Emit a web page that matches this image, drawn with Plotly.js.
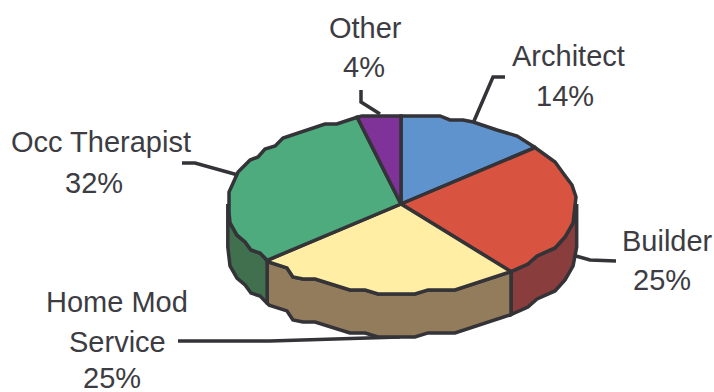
<!DOCTYPE html>
<html>
<head>
<meta charset="utf-8">
<script src="https://cdn.plot.ly/plotly-3.0.1.min.js"></script>
<style>html,body{margin:0;padding:0;background:#fff}#chart{width:714px;height:392px}</style>
</head>
<body>
<div id="chart"></div>
<script>
// Share of respondents by profession, clockwise from twelve o'clock
const categories = ['Architect', 'Builder', 'Home Mod Service', 'Occ Therapist', 'Other'];
const shares = [14, 25, 25, 32, 4];

const topColors = ['#5F93CE', '#D95440', '#FFEEA3', '#4DAB7E', '#7F3297'];
const wallColors = ['#4A7099', '#893D3D', '#937C5C', '#41704F', '#5A2570'];
const inkColor = '#333338';
const textColor = '#3C3C42';

// Each label is stacked line by line around its own centre
const labelLines = [
  ['Architect', '14%'],
  ['Builder', '25%'],
  ['Home Mod', 'Service', '25%'],
  ['Occ Therapist', '32%'],
  ['Other', '4%']
];
const labelX = [
  [568, 565],
  [667, 662],
  [117, 117, 112],
  [101, 94],
  [365, 364]
];
const labelY = [
  [56, 96],
  [241, 280],
  [302, 342, 378],
  [142, 183],
  [28, 67]
];

// Leader polylines from each label to the pie
const leaderX = [[505, 493, 474], [616, 590, 576], [178, 270, 400], [182, 195, 238], [361, 361, 380]];
const leaderY = [[77, 77, 121], [261, 260, 256], [341, 341, 337], [163, 163, 175], [90, 102, 114]];

// Pie projection
const cx = 401, cy = 204, rx = 175, ry = 89, depth = 43;

// The hand-drawn rim: angle clockwise from top, and radius relative to the ellipse
const rimAngle = [0, 12.7, 16.5, 20.6, 24.1, 33.4, 41, 51.5, 61.8, 69.4, 77.7, 85.5, 102.2, 111.6, 119.3, 126.9, 132.9,
  140.8, 162.3, 170.9, 175.5, 187.4, 192, 196.8, 210.2, 213.6, 217, 222.2, 229.1, 235.6, 238.9, 244.4, 249.6, 257.7,
  264.1, 277.8, 291.1, 299.8, 302.9, 308.5, 312.2, 317.7, 334.2, 337.8, 347.3, 360];
const rimScale = [0.989, 1.014, 0.985, 1.008, 1.009, 0.996, 1.012, 0.993, 0.999, 0.989, 1.0, 1.003, 1.006, 1.008, 1.009, 0.972, 0.99,
  0.986, 1.014, 0.978, 1.014, 1.02, 0.988, 1.009, 0.976, 1.012, 1.026, 0.97, 0.997, 0.976, 1.001, 0.988, 1.0, 1.0,
  0.988, 0.992, 0.998, 0.994, 0.973, 0.993, 0.971, 1.002, 0.998, 0.971, 1.014, 0.989];

function scaleAt(deg) {
  for (let i = 1; i < rimAngle.length; i++) {
    if (deg <= rimAngle[i]) {
      const t = (deg - rimAngle[i - 1]) / (rimAngle[i] - rimAngle[i - 1]);
      return rimScale[i - 1] + t * (rimScale[i] - rimScale[i - 1]);
    }
  }
  return rimScale[rimScale.length - 1];
}

function rimPoint(deg, drop) {
  const f = scaleAt(deg), a = deg * Math.PI / 180;
  return [cx + rx * f * Math.sin(a), cy - ry * f * Math.cos(a) + drop];
}

function arc(a0, a1, drop) {
  const angles = [a0, ...rimAngle.filter(a => a > a0 && a < a1), a1];
  return angles.map(a => rimPoint(a, drop));
}

function polygon(points, fill) {
  return {
    type: 'scatter', mode: 'lines', fill: 'toself', fillcolor: fill,
    x: points.map(p => p[0]), y: points.map(p => p[1]),
    line: {color: inkColor, width: 3.5, shape: 'linear'},
    hoverinfo: 'skip', showlegend: false
  };
}

const total = shares.reduce((s, v) => s + v, 0);
const walls = [], tops = [];
let cumulative = 0;
shares.forEach((share, i) => {
  const a0 = cumulative / total * 360;
  cumulative += share;
  const a1 = cumulative / total * 360;

  // Only the front half of the drum shows its side
  const w0 = Math.max(a0, 90), w1 = Math.min(a1, 270);
  if (w1 > w0) {
    const outline = [...arc(w0, w1, 0), ...arc(w0, w1, depth).reverse()];
    outline.push(outline[0]);
    walls.push(polygon(outline, wallColors[i]));
  }
  const wedge = [[cx, cy], ...arc(a0, a1, 0), [cx, cy]];
  tops.push(polygon(wedge, topColors[i]));
});

const leaders = leaderX.map((xs, i) => ({
  type: 'scatter', mode: 'lines', x: xs, y: leaderY[i],
  line: {color: inkColor, width: 3.5}, hoverinfo: 'skip', showlegend: false
}));

const annotations = [];
labelLines.forEach((lines, i) => lines.forEach((text, j) => {
  annotations.push({
    text, x: labelX[i][j], y: labelY[i][j], xref: 'x', yref: 'y',
    xanchor: 'center', yanchor: 'middle', showarrow: false,
    font: {family: 'Liberation Sans, Arial, sans-serif', size: 29, color: textColor}
  });
}));

const hidden = {visible: false, fixedrange: true};
Plotly.newPlot('chart', [...leaders, ...walls, ...tops], {
  width: 714, height: 392,
  margin: {l: 0, r: 0, t: 0, b: 0},
  paper_bgcolor: '#fff', plot_bgcolor: '#fff',
  xaxis: {...hidden, range: [0, 714]},
  yaxis: {...hidden, range: [392, 0]},
  annotations
}, {staticPlot: true, displayModeBar: false});
</script>
</body>
</html>
